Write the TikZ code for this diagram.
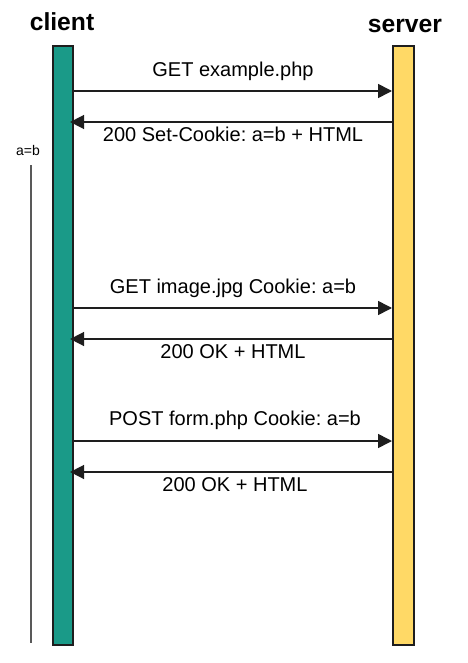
\documentclass[tikz,border=0pt]{standalone}
\usepackage{fontspec}
\setmainfont{Liberation Sans}
\usetikzlibrary{arrows.meta}
\definecolor{clientfill}{HTML}{1A9A88}
\definecolor{serverfill}{HTML}{FFD966}
\definecolor{edge}{HTML}{1E1E1E}
\frenchspacing
\begin{document}
\begin{tikzpicture}[x=0.75pt,y=-0.75pt,
  lifeline/.style={draw=edge,line width=1.6pt,minimum width=20.5*0.75pt,minimum height=599*0.75pt,inner sep=0pt,anchor=north west},
  title/.style={font=\fontsize{18.5}{20}\selectfont\bfseries},
  msg/.style={draw=edge,line width=1.2pt,-{Triangle[length=10.5pt,width=10.5pt]}},
  lbl/.style={font=\fontsize{15}{17}\selectfont,text=black}]
\useasboundingbox (0,0) rectangle (467,663);
% lifelines
\node[lifeline,fill=clientfill] (client) at (51.5,45) {};
\node[lifeline,fill=serverfill] (server) at (392,45) {};
\node[title] (ct) at (62,22) {client};
\node[title] (st) at (405,26) {server};
% messages
\foreach \n/\y in {1/91,2/122,3/308,4/339,5/441,6/472}{
  \coordinate (c\n) at (client.east |- 0,\y);
  \coordinate (s\n) at (server.west |- 0,\y);
}
\draw[msg] (c1) -- (s1);
\draw[msg] (s2) -- ([xshift=-3]c2);
\draw[msg] (c3) -- (s3);
\draw[msg] (s4) -- ([xshift=-3]c4);
\draw[msg] (c5) -- (s5);
\draw[msg] (s6) -- ([xshift=-3]c6);
\node[lbl] (l1) at (233,71) {GET example.php};
\node[lbl] (l2) at (233,134) {200 Set-Cookie: a=b + HTML};
\node[lbl] (l3) at (233,288) {GET image.jpg Cookie: a=b};
\node[lbl] (l4) at (233,352) {200 OK + HTML};
\node[lbl] (l5) at (235,420) {POST form.php Cookie: a=b};
\node[lbl] (l6) at (235,485) {200 OK + HTML};
% cookie lifetime
\node[font=\fontsize{10.5}{12}\selectfont] (ck) at (28,150) {a=b};
\coordinate (ckend) at (31,643);
\draw[gray!70!black,line width=1pt] (31,165) -- (ckend);
\end{tikzpicture}
\end{document}
